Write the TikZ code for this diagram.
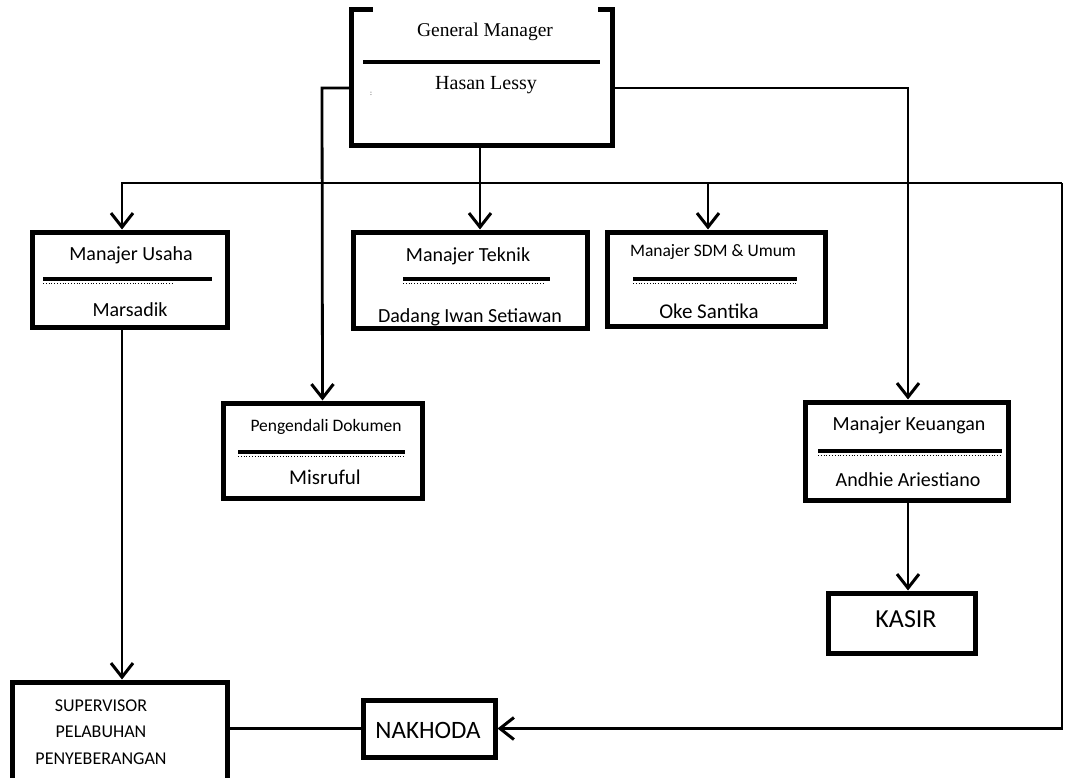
\documentclass[tikz,border=0pt]{standalone}
\usepackage{fontspec}
\setmainfont{Carlito}
\newfontfamily\gmfont{Liberation Serif}
\usetikzlibrary{arrows.meta}

\begin{document}
\begin{tikzpicture}[x=1pt, y=-1pt,
    box/.style={draw, line width=5pt, inner sep=0pt},
    conn/.style={line width=2.8pt},
    arr/.style={conn, -{Straight Barb[length=14pt, width=22pt, line width=3pt]}},
    lbl/.style={font=\fontsize{20}{22}\selectfont},
    small/.style={font=\fontsize{17.5}{19}\selectfont},
    big/.style={font=\fontsize{21}{23}\selectfont}]
    \useasboundingbox (0,0) rectangle (1065,778);

    % kotak-kotak
    \node[minimum width=260pt, minimum height=135pt, inner sep=0pt] (gm) at (482,77.5) {};
    \draw[line width=5pt] ([xshift=21pt]gm.north west) -- (gm.north west) -- (gm.south west)
        -- (gm.south east) -- (gm.north east) -- ([xshift=-14pt]gm.north east);
    \node[box, minimum width=195pt, minimum height=95pt] (usaha) at (129.5,279.5) {};
    \node[box, minimum width=234pt, minimum height=96pt] (teknik) at (470,280) {};
    \node[box, minimum width=218pt, minimum height=94pt] (sdm) at (716,279) {};
    \node[box, minimum width=199pt, minimum height=95pt] (dokumen) at (322.5,450.5) {};
    \node[box, minimum width=203pt, minimum height=98pt] (keuangan) at (906.5,451) {};
    \node[box, minimum width=147pt, minimum height=60pt] (kasir) at (901.5,623) {};
    \node[box, minimum width=215pt, minimum height=108pt] (spv) at (119.5,736) {};
    \node[box, minimum width=132pt, minimum height=57pt] (nakhoda) at (429,728.5) {};

    % teks
    \node[font=\gmfont\fontsize{19.5}{21}\selectfont] (gmA) at (485,32) {General Manager};
    \node[font=\gmfont\fontsize{20}{22}\selectfont] (gmB) at (486,85) {Hasan Lessy};
    \node[font=\gmfont\scriptsize] (gmC) at (371,94) {:};
    \node[lbl] (usahaA) at (131,255) {Manajer Usaha};
    \node[lbl] (usahaB) at (130,310) {Marsadik};
    \node[lbl] (teknikA) at (468,256) {Manajer Teknik};
    \node[lbl] (teknikB) at (470,317) {Dadang Iwan Setiawan};
    \node[small] (sdmA) at (713,252) {Manajer SDM \& Umum};
    \node[big] (sdmB) at (709,311) {Oke Santika};
    \node[small] (dokumenA) at (326,427) {Pengendali Dokumen};
    \node[big] (dokumenB) at (325,477) {Misruful};
    \node[lbl] (keuanganA) at (909,425) {Manajer Keuangan};
    \node[lbl] (keuanganB) at (908,480) {Andhie Ariestiano};
    \node[font=\fontsize{26}{28}\selectfont] (kasirA) at (906,619) {KASIR};
    \node[font=\fontsize{25}{27}\selectfont] (nakhodaA) at (428,730) {NAKHODA};
    \node[align=center, font=\fontsize{18}{26.5}\selectfont] (spvA) at (101,732)
        {SUPERVISOR\\PELABUHAN\\PENYEBERANGAN};

    % garis pemisah
    \draw[line width=4pt] (363,62) -- (600,62);
    \foreach \xa/\xb/\xc/\yy in {43/212/172/279, 403/550/545/279, 633/797/797/279, 238/405/405/452, 818/1002/1002/451} {
        \draw[line width=4pt] (\xa,\yy) -- (\xb,\yy);
        \draw[line width=0.8pt, dotted] (\xa,\yy+4.5) -- (\xc,\yy+4.5);
    }

    % penghubung
    \coordinate (gmL) at (322,88);
    \coordinate (gmR) at (908,88);
    \coordinate (busL) at (122,183);
    \coordinate (busS) at (708,183);
    \coordinate (busR) at (1062,183);
    \draw[arr] (gm.west |- gmL) -- (gmL) -- (dokumen.north);
    \draw[arr] (gm.east |- gmR) -- (gmR) -- (gmR |- keuangan.north);
    \draw[arr] (gm.south -| 480,0) -- (teknik.north -| 480,0);
    \draw[arr] (busR) -- (busL) -- (busL |- usaha.north);
    \draw[arr] (busS) -- (busS |- sdm.north);
    \draw[arr] (busR) -- (busR |- nakhoda.east) -- (nakhoda.east);
    \draw[arr] (usaha.south -| busL) -- (spv.north -| busL);
    \draw[arr] (keuangan.south -| gmR) -- (kasir.north -| gmR);
    \draw[conn] (spv.east |- nakhoda.west) -- (nakhoda.west);
\end{tikzpicture}
\end{document}
